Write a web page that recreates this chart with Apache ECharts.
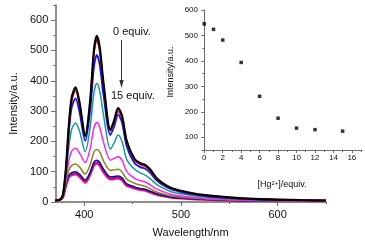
<!DOCTYPE html>
<html>
<head>
<meta charset="utf-8">
<script src="https://cdn.jsdelivr.net/npm/echarts@6/dist/echarts.min.js"></script>
<style>
  html, body { margin: 0; padding: 0; background: #fff; }
  #chart { width: 365px; height: 246px; }
</style>
</head>
<body>
<div id="chart"></div>
<script>
// emission spectra
const wavelengths = [370, 375, 378, 381, 384, 387, 391, 395, 401, 406, 410, 413, 416, 420, 427, 431, 435, 439, 444, 452, 458, 463, 468, 474, 480, 490, 500, 515, 530, 550, 575, 600, 625, 650];
const eq0  = [5, 8, 25, 110, 250, 345, 378, 330, 218, 330, 500, 548, 510, 390, 238, 270, 310, 285, 200, 142, 128, 122, 108, 82, 65, 46, 37, 27, 21, 15, 10, 8, 6, 5];
const eq1  = [5, 8, 24, 105, 242, 335, 368, 322, 222, 325, 490, 535, 498, 382, 235, 264, 300, 276, 195, 138, 124, 118, 104, 79, 63, 45, 36, 26, 20, 14, 10, 8, 6, 5];
const eq2  = [5, 8, 23, 100, 228, 312, 342, 298, 202, 300, 445, 485, 452, 350, 221, 250, 288, 262, 182, 128, 115, 110, 97, 74, 59, 42, 33, 24, 18, 13, 9, 7, 6, 5];
const eq4  = [5, 8, 21, 85, 180, 240, 261, 235, 166, 245, 360, 392, 366, 285, 174, 196, 221, 200, 140, 108, 96, 89, 77, 60, 48, 34, 27, 20, 15, 11, 8, 6, 5, 4];
const eq6  = [5, 8, 19, 70, 135, 168, 177, 162, 130, 175, 245, 262, 246, 196, 138, 144, 149, 138, 100, 78, 70, 66, 57, 44, 36, 25, 20, 15, 11, 8, 6, 5, 4, 3];
const eq8  = [5, 8, 18, 60, 105, 120, 125, 116, 92, 122, 165, 173, 165, 135, 104, 106, 108, 100, 75, 62, 56, 52, 44, 34, 28, 20, 16, 12, 9, 7, 5, 4, 3, 3];
const eq10 = [5, 8, 17, 55, 88, 97, 100, 92, 73, 98, 132, 138, 131, 108, 83, 84, 86, 80, 60, 50, 45, 42, 36, 28, 23, 16, 13, 10, 8, 6, 4, 4, 3, 3];
const eq12 = [5, 8, 17, 54, 85, 93, 95, 88, 69, 94, 126, 132, 125, 103, 79, 80, 82, 76, 57, 48, 43, 40, 34, 27, 22, 16, 13, 10, 8, 6, 4, 4, 3, 3];
const eq15 = [5, 8, 16, 52, 82, 89, 91, 84, 64, 90, 121, 127, 120, 98, 75, 76, 78, 72, 54, 45, 40, 38, 32, 25, 20, 15, 12, 9, 7, 5, 4, 3, 3, 3];

const spectra = [eq15, eq12, eq10, eq8, eq6, eq4, eq2, eq1, eq0];
const lineColors = ['#ff0a78', '#8a1a9a', '#101090', '#86861a', '#ff22ff', '#139a9a', '#1010ff', '#ff1010', '#000000'];
const lineWidths = [2.4, 1.5, 1.5, 1.5, 1.5, 1.5, 1.8, 1.8, 2.2];

// inset: intensity vs [Hg2+]
const hgEquiv = [0, 1, 2, 4, 6, 8, 10, 12, 15];
const hgIntensity = [545, 524, 482, 394, 261, 175, 136, 130, 124];

const mainXLabels = [400, 500, 600];
const mainXMinor = [450, 550, 650];
const mainYLabels = [0, 100, 200, 300, 400, 500, 600];
const mainYMinor = [50, 150, 250, 350, 450, 550, 650];
const insetXLabels = [0, 2, 4, 6, 8, 10, 12, 14, 16];
const insetXMinor = [1, 3, 5, 7, 9, 11, 13, 15, 17];
const insetYLabels = [100, 200, 300, 400, 500, 600];
const insetYMinor = [50, 150, 250, 350, 450, 550];

const FONT = 'Liberation Sans';
const AXIS = '#6a6a6a';

function majorAxis(extra) {
  return Object.assign({
    type: 'value',
    axisLine: { show: true, lineStyle: { color: AXIS, width: 1.5 } },
    axisTick: { show: true, length: 4, lineStyle: { color: AXIS, width: 1 } },
    axisLabel: { color: '#111', fontFamily: FONT, fontSize: 11, margin: 7 },
    splitLine: { show: false }
  }, extra);
}

// second axis on the same grid, only for the short ticks
function minorAxis(extra) {
  return Object.assign({
    type: 'value',
    axisLine: { show: false },
    axisTick: { show: true, length: 2, lineStyle: { color: AXIS, width: 1 } },
    axisLabel: { show: false },
    splitLine: { show: false }
  }, extra);
}

const chart = echarts.init(document.getElementById('chart'), null, { renderer: 'canvas' });

const series = spectra.map((vals, i) => ({
  type: 'line',
  xAxisIndex: 0,
  yAxisIndex: 0,
  data: wavelengths.map((w, j) => [w, vals[j]]),
  showSymbol: false,
  smooth: 0.3,
  lineStyle: { color: lineColors[i], width: lineWidths[i] },
  silent: true,
  z: 2 + i
}));

series.push({
  type: 'scatter',
  xAxisIndex: 2,
  yAxisIndex: 2,
  data: hgEquiv.map((e, i) => [e, hgIntensity[i]]),
  symbol: 'rect',
  symbolSize: 3.5,
  itemStyle: { color: '#000' },
  silent: true,
  z: 20
});

const option = {
  animation: false,
  backgroundColor: '#fff',
  grid: [
    { left: 55, top: 5, width: 271, height: 197 },
    { left: 202, top: 10, width: 160, height: 140 }
  ],
  xAxis: [
    majorAxis({
      gridIndex: 0, position: 'bottom', min: 370, max: 650,
      axisTick: { show: true, length: 4, customValues: mainXLabels, lineStyle: { color: AXIS } },
      axisLabel: { color: '#111', fontFamily: FONT, fontSize: 11, margin: 7, customValues: mainXLabels },
      name: 'Wavelength/nm', nameLocation: 'middle', nameGap: 25,
      nameTextStyle: { color: '#111', fontFamily: FONT, fontSize: 11 }
    }),
    minorAxis({
      gridIndex: 0, position: 'bottom', min: 370, max: 650,
      axisTick: { show: true, length: 2, customValues: mainXMinor, lineStyle: { color: AXIS } }
    }),
    majorAxis({
      gridIndex: 1, position: 'bottom', min: -0.25, max: 17.1,
      axisLine: { show: true, lineStyle: { color: AXIS, width: 1 } },
      axisTick: { show: true, length: 3, customValues: insetXLabels, lineStyle: { color: AXIS } },
      axisLabel: { color: '#111', fontFamily: FONT, fontSize: 8, margin: 4, customValues: insetXLabels },
      name: '[Hg{sup|2+}]/equiv.', nameLocation: 'middle', nameGap: 30,
      nameTextStyle: {
        color: '#111', fontFamily: FONT, fontSize: 9,
        rich: { sup: { fontSize: 6, fontFamily: FONT, color: '#111', padding: [0, 0, 4, 0] } }
      }
    }),
    minorAxis({
      gridIndex: 1, position: 'bottom', min: -0.25, max: 17.1,
      axisTick: { show: true, length: 2, customValues: insetXMinor, lineStyle: { color: AXIS } }
    })
  ],
  yAxis: [
    majorAxis({
      gridIndex: 0, position: 'left', min: 0, max: 650,
      axisTick: { show: true, length: 4, customValues: mainYLabels, lineStyle: { color: AXIS } },
      axisLabel: { color: '#111', fontFamily: FONT, fontSize: 11, margin: 7, customValues: mainYLabels },
      name: 'Intensity/a.u.', nameLocation: 'middle', nameGap: 36,
      nameTextStyle: { color: '#111', fontFamily: FONT, fontSize: 11 }
    }),
    minorAxis({
      gridIndex: 0, position: 'left', min: 0, max: 650,
      axisTick: { show: true, length: 2, customValues: mainYMinor, lineStyle: { color: AXIS } }
    }),
    majorAxis({
      gridIndex: 1, position: 'left', min: 50, max: 600,
      axisLine: { show: true, lineStyle: { color: AXIS, width: 1 } },
      axisTick: { show: true, length: 3, customValues: insetYLabels, lineStyle: { color: AXIS } },
      axisLabel: { color: '#111', fontFamily: FONT, fontSize: 8, margin: 4, customValues: insetYLabels },
      name: 'Intensity/a.u.', nameLocation: 'middle', nameGap: 27,
      nameTextStyle: { color: '#111', fontFamily: FONT, fontSize: 9, padding: [0, 0, 0, 16] }
    }),
    minorAxis({
      gridIndex: 1, position: 'left', min: 50, max: 600,
      axisTick: { show: true, length: 2, customValues: insetYMinor, lineStyle: { color: AXIS } }
    })
  ],
  graphic: [
    { type: 'text', left: 113, top: 26, style: { text: '0 equiv.', fill: '#111', font: '11px "Liberation Sans"' } },
    { type: 'line', shape: { x1: 121.5, y1: 40, x2: 121.5, y2: 82 }, style: { stroke: '#333', lineWidth: 1 } },
    { type: 'polygon', shape: { points: [[119.3, 80], [123.7, 80], [121.5, 88]] }, style: { fill: '#333' } },
    { type: 'text', left: 111, top: 90, style: { text: '15 equiv.', fill: '#111', font: '11px "Liberation Sans"' } }
  ],
  series: series
};

chart.setOption(option);
</script>
</body>
</html>
